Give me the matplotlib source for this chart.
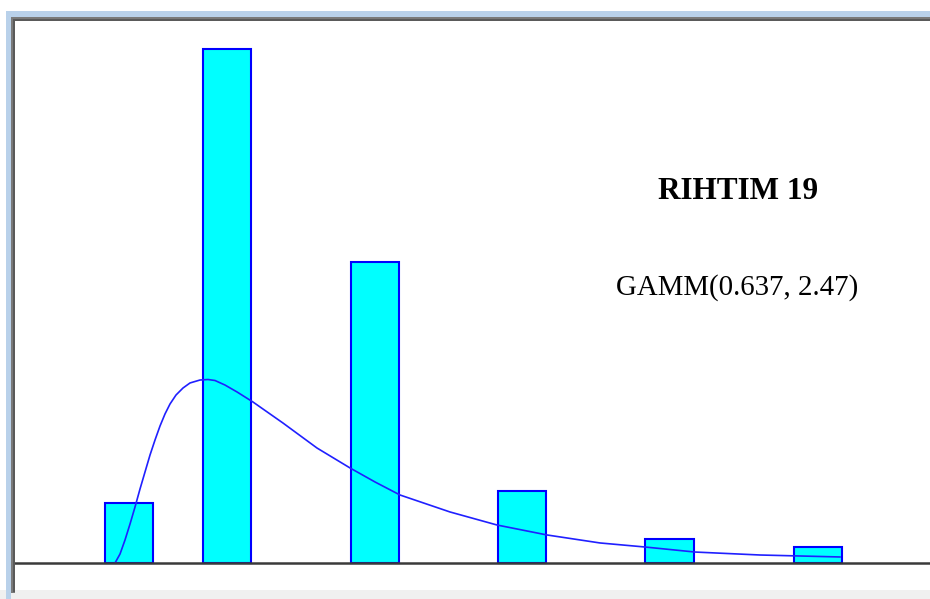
import matplotlib.pyplot as plt
from matplotlib.patches import Rectangle

# Histogram bins (bar centres) and relative frequencies
bin_centers = [0.095, 0.758, 1.760, 2.756, 3.754, 4.760]
rel_freq = [0.0608, 0.5208, 0.3050, 0.0729, 0.0243, 0.0162]

# Fitted density curve, sampled points
curve_x = [0.0, 0.0339, 0.0677, 0.1016, 0.1354, 0.1693, 0.2031, 0.2370, 0.2708,
           0.3047, 0.3385, 0.3724, 0.4130, 0.4604, 0.5078, 0.5755, 0.6297, 0.6771,
           0.7448, 0.8260, 0.9343, 1.1374, 1.3676, 1.5911, 1.7603, 1.9296, 2.2681,
           2.5863, 2.9248, 3.2837, 3.5884, 3.9269, 4.3670, 4.9086]
curve_y = [0.0, 0.0091, 0.0233, 0.0395, 0.0567, 0.0750, 0.0922, 0.1094, 0.1246,
           0.1388, 0.1510, 0.1611, 0.1702, 0.1773, 0.1824, 0.1854, 0.1859, 0.1849,
           0.1803, 0.1733, 0.1631, 0.1418, 0.1165, 0.0963, 0.0821, 0.0689, 0.0517,
           0.0385, 0.0284, 0.0203, 0.0162, 0.0111, 0.0081, 0.0061]

title = "RIHTIM 19"
fit_label = "GAMM(0.637, 2.47)"

W, H = 930, 599
fig = plt.figure(figsize=(W / 100, H / 100), dpi=100, facecolor="white")


def px_rect(x0, y0, x1, y1, color):
    # rectangle given in pixel coords (origin top-left)
    fig.patches.append(Rectangle((x0 / W, 1 - y1 / H), (x1 - x0) / W, (y1 - y0) / H,
                                 transform=fig.transFigure, facecolor=color,
                                 edgecolor="none", zorder=0))


# window frame
px_rect(0, 590, W, H, "#f0f0f0")
px_rect(6, 11, W, 17, "#b9d1ea")
px_rect(6, 11, 11, H, "#b9d1ea")
px_rect(11, 17, W, 21, "#7a7a7a")
px_rect(11, 17, 15, 593, "#7a7a7a")
px_rect(13, 19, W, 21, "#5a5a5a")
px_rect(13, 19, 15, 592, "#5a5a5a")

# plot area
ax = fig.add_axes([15 / W, 1 - 590 / H, (W - 15) / W, (590 - 21) / H])
ax.set_facecolor("white")
ax.set_xlim(-0.6771, 5.518)
ax.set_ylim(-0.02736, 0.54914)
ax.axis("off")

ax.bar(bin_centers, rel_freq, width=0.328, color="#00ffff", edgecolor="#0000ff",
       linewidth=1.5, zorder=2)
ax.plot(curve_x, curve_y, color="#2020ff", linewidth=1.2, zorder=3)
ax.axhline(0, color="#3a3a3a", linewidth=1.8, zorder=4)

fig.text(738 / W, 1 - 199 / H, title, ha="center", va="baseline",
         family="Liberation Serif", fontweight="bold", fontsize=22.5)
fig.text(737.5 / W, 1 - 295 / H, fit_label, ha="center", va="baseline",
         family="Liberation Serif", fontsize=20.8)

fig.savefig("out.png", dpi=100, facecolor="white")
